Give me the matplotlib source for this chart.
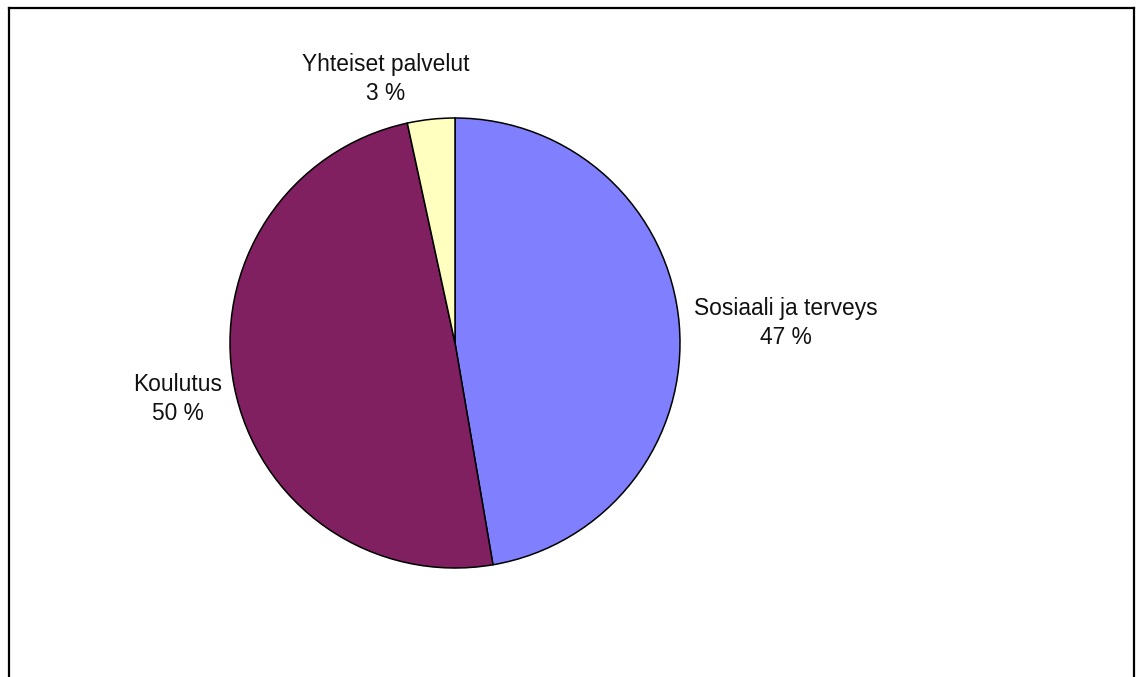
import matplotlib
matplotlib.use("Agg")
import matplotlib.pyplot as plt
from matplotlib.lines import Line2D

categories = ["Sosiaali ja terveys", "Koulutus", "Yhteiset palvelut"]
values = [47.3, 49.3, 3.4]
pct_labels = ["47 %", "50 %", "3 %"]
colors = ["#8080FF", "#802060", "#FFFFC0"]

W, H = 1140, 677
fig = plt.figure(figsize=(W / 100, H / 100), dpi=100)
fig.patch.set_facecolor("white")

cx, cy, r = 455, 343, 225
ax = fig.add_axes([(cx - r) / W, (H - cy - r) / H, 2 * r / W, 2 * r / H])
ax.pie(values, colors=colors, startangle=90, counterclock=False, radius=1,
       wedgeprops=dict(edgecolor="black", linewidth=1.1))
ax.set_xlim(-1, 1)
ax.set_ylim(-1, 1)
ax.set_aspect("equal")
ax.axis("off")

# label centres in pixel layout
label_pos = [(786, 323), (178, 399), (386, 79)]
for cat, pct, (px, py) in zip(categories, pct_labels, label_pos):
    fig.text(px / W, 1 - py / H, f"{cat}\n{pct}", ha="center", va="center",
             fontsize=16.4, family=["Liberation Sans", "DejaVu Sans"],
             color="#111111", linespacing=1.34)

# outer frame (bottom edge outside the image)
x0, x1, y0 = 9 / W, 1134 / W, 1 - 8 / H
for xs, ys in [([x0, x1], [y0, y0]), ([x0, x0], [y0, -0.05]), ([x1, x1], [y0, -0.05])]:
    fig.add_artist(Line2D(xs, ys, color="black", linewidth=1.6, transform=fig.transFigure))

fig.savefig("out.png", dpi=100)
